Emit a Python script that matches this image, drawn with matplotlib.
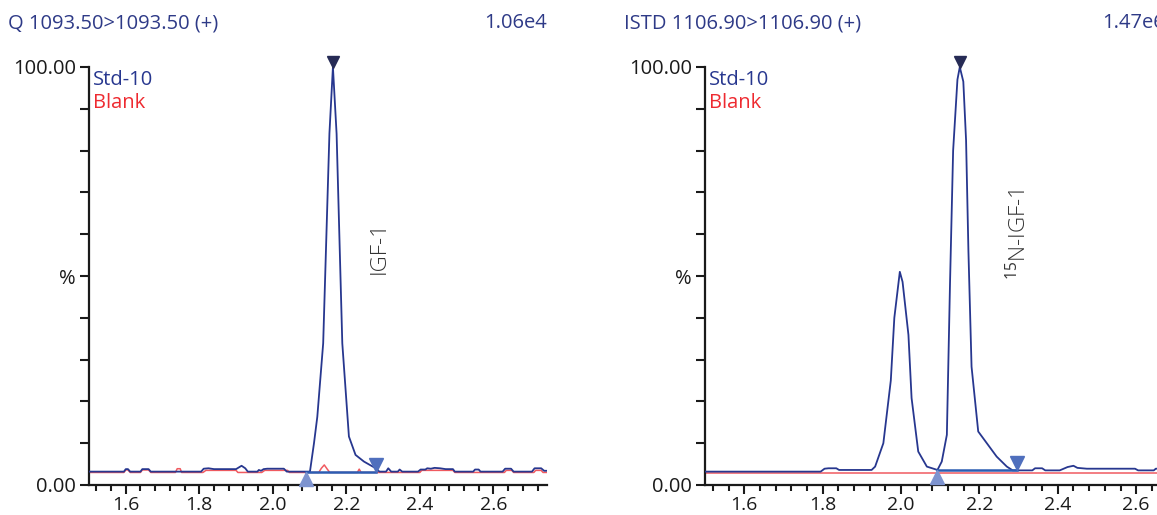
import matplotlib
matplotlib.use('Agg')
import matplotlib.pyplot as plt
from matplotlib.ticker import MultipleLocator, FixedLocator
from matplotlib.transforms import offset_copy, blended_transform_factory

plt.rcParams['font.family'] = ['Open Sans', 'DejaVu Sans']
plt.rcParams['mathtext.fontset'] = 'custom'
plt.rcParams['mathtext.rm'] = 'Open Sans'

# ---- data (retention time in min, relative %) ----
# left panel: IGF-1, Q 1093.50>1093.50
q_std_t = [1.500, 1.595, 1.600, 1.606, 1.612, 1.640, 1.645, 1.662, 1.668, 1.805,
           1.812, 1.825, 1.840, 1.900, 1.915, 1.925, 1.932, 1.958, 1.962, 1.968,
           1.975, 1.985, 2.030, 2.038, 2.101, 2.112, 2.121, 2.137, 2.154, 2.1635,
           2.1735, 2.189, 2.207, 2.225, 2.248, 2.280, 2.290, 2.308, 2.314, 2.322,
           2.340, 2.345, 2.352, 2.395, 2.402, 2.415, 2.420, 2.430, 2.440, 2.455,
           2.470, 2.490, 2.495, 2.545, 2.550, 2.560, 2.565, 2.625, 2.632, 2.648,
           2.655, 2.705, 2.712, 2.730, 2.738, 2.745]
q_std_y = [3.2, 3.2, 3.8, 3.8, 3.2, 3.2, 3.8, 3.8, 3.2, 3.2,
           3.9, 4.0, 3.8, 3.8, 4.6, 4.0, 3.2, 3.2, 3.6, 3.4,
           3.8, 3.9, 3.9, 3.2, 3.2, 10.0, 16.3, 33.9, 84.1, 100.0,
           84.0, 33.9, 11.6, 7.2, 5.6, 4.0, 3.2, 3.2, 4.0, 3.2,
           3.2, 3.7, 3.2, 3.2, 3.7, 3.7, 4.0, 3.9, 4.1, 4.0,
           3.8, 3.8, 3.2, 3.2, 3.7, 3.7, 3.2, 3.2, 3.9, 3.9,
           3.2, 3.2, 4.0, 4.0, 3.4, 3.4]
q_blank_t = [1.500, 1.595, 1.600, 1.606, 1.612, 1.640, 1.645, 1.662, 1.668, 1.735,
             1.740, 1.748, 1.752, 1.810, 1.818, 1.900, 1.905, 1.970, 1.978, 2.040,
             2.045, 2.125, 2.132, 2.140, 2.148, 2.155, 2.230, 2.235, 2.240, 2.400,
             2.405, 2.490, 2.495, 2.630, 2.635, 2.650, 2.655, 2.710, 2.715, 2.730,
             2.735, 2.745]
q_blank_y = [3.0, 3.0, 3.6, 3.6, 3.0, 3.0, 3.6, 3.6, 3.0, 3.0,
             3.9, 3.9, 3.0, 3.0, 3.5, 3.5, 3.0, 3.0, 3.5, 3.5,
             3.0, 3.0, 4.0, 4.8, 3.8, 3.0, 3.0, 3.8, 3.0, 3.0,
             3.5, 3.5, 3.0, 3.0, 3.5, 3.5, 3.0, 3.0, 3.5, 3.5,
             3.0, 3.0]
q_apex = (2.1635, 100.0)
q_start = (2.089, 3.2)
q_end = (2.280, 3.2)

# right panel: 15N-IGF-1, ISTD 1106.90>1106.90
i_std_t = [1.500, 1.795, 1.805, 1.815, 1.835, 1.842, 1.925, 1.934, 1.955, 1.974,
           1.983, 1.997, 2.004, 2.019, 2.027, 2.044, 2.066, 2.093, 2.104, 2.117,
           2.125, 2.133, 2.144, 2.150, 2.159, 2.166, 2.172, 2.180, 2.197, 2.244,
           2.270, 2.285, 2.335, 2.342, 2.360, 2.368, 2.405, 2.425, 2.440, 2.450,
           2.474, 2.597, 2.605, 2.645, 2.650, 2.680]
i_std_y = [3.2, 3.2, 3.9, 4.0, 4.0, 3.6, 3.6, 4.4, 10.0, 25.0,
           40.0, 51.0, 48.6, 35.9, 20.8, 8.0, 4.4, 3.6, 5.6, 12.0,
           48.0, 80.0, 97.0, 100.0, 96.5, 82.5, 56.0, 28.3, 12.8, 6.8,
           4.4, 3.5, 3.5, 4.0, 4.0, 3.5, 3.5, 4.3, 4.6, 4.1,
           3.9, 3.9, 3.5, 3.5, 3.9, 3.9]
i_blank_t = [1.500, 2.680]
i_blank_y = [2.9, 2.9]
i_apex = (2.150, 100.0)
i_start = (2.093, 3.5)
i_end = (2.296, 3.5)

W, H = 1157, 515
BLUE = '#27378f'
RED = '#f05a60'
TXT = '#2e3a87'
FS = 14.5

fig = plt.figure(figsize=(W / 100, H / 100), dpi=100)


def panel(left_px, right_px, xmax, title, scale, t, y, bt, by, apex, start, end, label, lab_x, lab_y):
    ax = fig.add_axes([left_px / W, 30 / H, (right_px - left_px) / W, 418 / H])
    ax.plot(bt, by, color=RED, lw=1.1, zorder=2)
    ax.plot(t, y, color=BLUE, lw=1.3, zorder=3)
    ax.plot([start[0], end[0]], [start[1], end[1]], color='#2c5db3', lw=1.8, zorder=4)
    up = offset_copy(ax.transData, fig=fig, y=5, units='dots')
    ax.plot(*apex, marker='v', ms=9, color='#262b55', transform=up, clip_on=False, zorder=5)
    dn = offset_copy(ax.transData, fig=fig, y=-7, units='dots')
    ax.plot(*start, marker='^', ms=10, color='#7d93cf', transform=dn, clip_on=False, zorder=5)
    up2 = offset_copy(ax.transData, fig=fig, y=7, units='dots')
    ax.plot(*end, marker='v', ms=10, color='#4f6fbd', transform=up2, clip_on=False, zorder=5)

    ax.set_xlim(1.5, xmax)
    ax.set_ylim(0, 100)
    for s in ('top', 'right'):
        ax.spines[s].set_visible(False)
    for s in ('left', 'bottom'):
        ax.spines[s].set_linewidth(1.6)
        ax.spines[s].set_color('#1a1a1a')
    ax.yaxis.set_major_locator(FixedLocator(range(0, 101, 10)))
    ax.set_yticklabels(['0.00', '', '', '', '', '%', '', '', '', '', '100.00'])
    ax.xaxis.set_major_locator(MultipleLocator(0.2))
    ax.xaxis.set_minor_locator(MultipleLocator(0.04))
    ax.xaxis.set_major_formatter(plt.FuncFormatter(lambda v, p: '%.1f' % v))
    ax.tick_params(axis='y', which='major', length=6.5, width=1.5, color='#1a1a1a',
                   labelsize=FS, labelcolor='#1a1a1a', pad=3)
    ax.tick_params(axis='x', which='major', length=6.5, width=1.5, color='#1a1a1a',
                   labelsize=14, labelcolor='#1a1a1a', pad=1.5)
    ax.tick_params(axis='x', which='minor', length=4.3, width=1.5, color='#1a1a1a')

    ax.text(0.009, 0.970, 'Std-10', color=BLUE, fontsize=FS, transform=ax.transAxes,
            ha='left', va='center')
    ax.text(0.009, 0.914, 'Blank', color='#ee2a30', fontsize=FS, transform=ax.transAxes,
            ha='left', va='center')
    ax.text(lab_x, lab_y, label, rotation=90, fontsize=16, color='#333333',
            fontweight='light', ha='center', va='center')

    fig.text((left_px - 81) / W, 1 - 23 / H, title, color=TXT, fontsize=FS,
             ha='left', va='center')
    ax.text(1.0, 1 - 23 / H, scale, color=TXT, fontsize=FS, ha='right', va='center',
            transform=blended_transform_factory(ax.transAxes, fig.transFigure))
    return ax


panel(89, 546.7, 2.745, 'Q 1093.50>1093.50 (+)', '1.06e4', q_std_t, q_std_y,
      q_blank_t, q_blank_y, q_apex, q_start, q_end, 'IGF-1', 2.29, 56.7)
panel(705, 1165, 2.6735, 'ISTD 1106.90>1106.90 (+)', '1.47e6', i_std_t, i_std_y,
      i_blank_t, i_blank_y, i_apex, i_start, i_end, r'$^{\mathrm{15}}$N-IGF-1', 2.30, 60.0)

fig.savefig('out.png', dpi=100)
